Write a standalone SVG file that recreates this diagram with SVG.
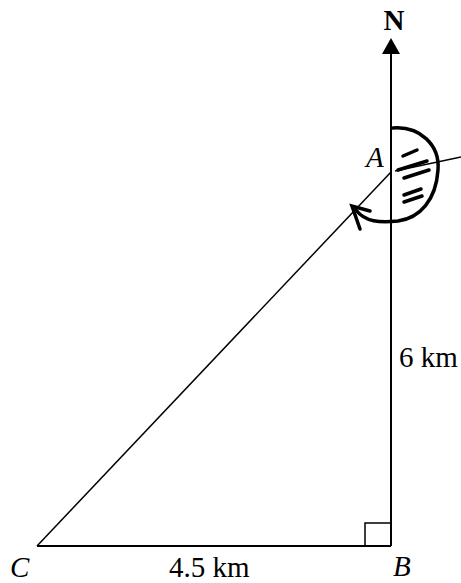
<svg xmlns="http://www.w3.org/2000/svg" width="461" height="583" viewBox="0 0 461 583">
<style>
.ln{stroke:#000;stroke-width:2;fill:none}
.thin{stroke:#000;stroke-width:1.5;fill:none}
.thick{stroke:#000;stroke-width:3.5;fill:none;stroke-linecap:round}
.lbl{font-family:"Liberation Serif",serif;font-size:29px;fill:#000}
.it{font-style:italic}
</style>
<rect width="461" height="583" fill="#fff"/>
<g id="connectors">
<line class="ln" x1="391" y1="50" x2="391" y2="546"/>
<polygon points="391,38 382,54 400,54" fill="#000"/>
<line class="ln" x1="37" y1="546" x2="391" y2="546"/>
<line class="thin" x1="37" y1="546" x2="391" y2="172"/>
<line class="thin" x1="395" y1="171" x2="461" y2="157"/>
<polyline class="thin" points="365,546 365,523 391,523"/>
</g>
<g id="bearing">
<path class="thick" d="M393,128 C420,126 440,145 438,170 C436,200 420,218 398,221 C380,223 365,222 356,210"/>
<path class="thick" d="M370,211 L352,206 L360,229"/>
<line class="thick" x1="403" y1="156" x2="417" y2="150"/>
<line class="thick" x1="398" y1="170" x2="427" y2="161"/>
<line class="thick" x1="404" y1="178" x2="429" y2="170"/>
<line class="thick" x1="404" y1="195" x2="421" y2="189"/>
<line class="thick" x1="404" y1="202" x2="422" y2="196"/>
</g>
<g id="N"><text class="lbl" x="394" y="30" text-anchor="middle" font-weight="bold" font-size="27">N</text></g>
<g id="A"><text class="lbl it" x="366" y="167" font-size="23">A</text></g>
<g id="B"><text class="lbl it" x="393" y="576">B</text></g>
<g id="C"><text class="lbl it" x="10" y="577">C</text></g>
<g id="label-6km"><text class="lbl" x="399" y="367">6 km</text></g>
<g id="label-45km"><text class="lbl" x="169" y="577">4.5 km</text></g>
</svg>
